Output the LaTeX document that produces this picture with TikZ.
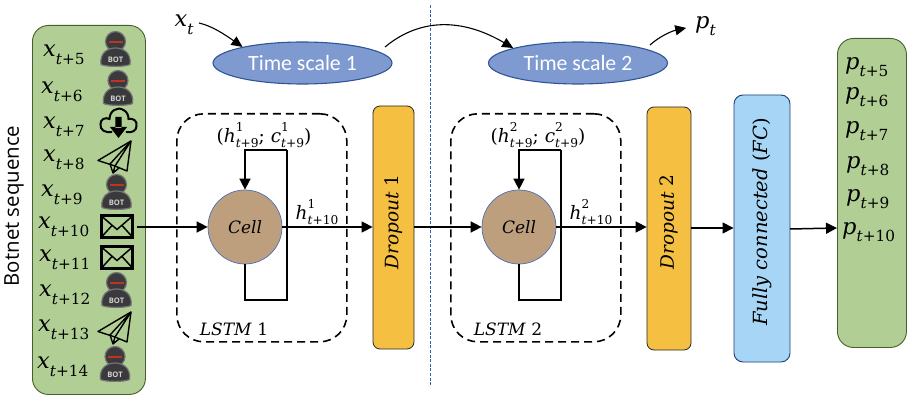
\documentclass[tikz,border=0pt]{standalone}
\usepackage[no-math]{fontspec}
\usetikzlibrary{arrows.meta,shapes.geometric}
\newfontfamily\calib{Carlito}
\newfontfamily\opens{Open Sans}
\newfontfamily\dvs{DejaVu Serif}
\definecolor{panelgreen}{HTML}{B1CF94}
\definecolor{paneledge}{HTML}{44602F}
\definecolor{scalefill}{HTML}{7F9AD0}
\definecolor{scaleedge}{HTML}{2F5597}
\definecolor{cellfill}{HTML}{BE9F7D}
\definecolor{celledge}{HTML}{4A6FB5}
\definecolor{dropfill}{HTML}{F5BF41}
\definecolor{fcfill}{HTML}{A6D5F5}
\definecolor{fcedge}{HTML}{1F3F77}
\definecolor{divider}{HTML}{2E62B5}
\definecolor{botdark}{HTML}{3A3A3C}
\definecolor{botband}{HTML}{C03222}
\newcommand{\lbl}{\dvs\fontsize{22.5}{24}\selectfont}
\newcommand{\medtxt}{\dvs\fontsize{17}{20}\selectfont}
\newcommand{\statetxt}{\dvs\fontsize{18.5}{20}\selectfont}
\newcommand{\droptxt}{\dvs\fontsize{18.5}{20}\selectfont}
\newcommand{\fctxt}{\dvs\fontsize{19.5}{20}\selectfont}
% symbol with a lowered index: base, italic part of the index, upright part of the index
\newcommand{\sbs}[3]{\mbox{\dvs\itshape #1\raisebox{-.34em}{\scalebox{.68}{\itshape #2\upshape #3}}}}
% symbol with an exponent stacked over the index
\newcommand{\sps}[4]{\mbox{\dvs\itshape #1\rlap{\raisebox{.6em}{\scalebox{.66}{\upshape #2}}}\raisebox{-.28em}{\scalebox{.66}{\itshape #3\upshape #4}}}}
\tikzset{
  x=1pt,y=-1pt,
  flow/.style={line width=1.5pt,-{Triangle[length=11pt,width=11pt]}},
  curvearrow/.style={line width=1.1pt,-{Triangle[length=11pt,width=10pt]}},
  panel/.style={draw=paneledge,fill=panelgreen,line width=.9pt,rounded corners=16pt},
  dropbox/.style={draw=black!85,fill=dropfill,line width=.8pt,rounded corners=7pt},
  fcbox/.style={draw=fcedge,fill=fcfill,line width=.9pt,rounded corners=9pt},
  lstmbox/.style={draw=black,line width=1.6pt,dash pattern=on 8pt off 5pt,rounded corners=27pt},
  tscale/.style={ellipse,draw=scaleedge,fill=scalefill,line width=1.1pt,minimum width=179pt,minimum height=42pt,inner sep=0pt,text=white,font=\calib\fontsize{21.8}{24}\selectfont},
  lstmcell/.style={circle,draw=celledge,fill=cellfill,line width=.7pt,minimum size=74pt,inner sep=0pt},
  seq/.style={anchor=west,inner sep=0pt,font=\lbl},
  pics/bot/.style={code={
    \path[draw=botdark!70,line width=1.2pt,fill=botdark] (0,-9.5) circle (10);
    \path[draw=botdark!70,line width=1.2pt,fill=botdark] (-14.5,13.5) .. controls (-16,3) and (-9,-3) .. (0,-3) .. controls (9,-3) and (16,3) .. (14.5,13.5) .. controls (10,16) and (-10,16) .. (-14.5,13.5) -- cycle;
    \fill[botband] (-7,-10.4) rectangle (7,-8.4);
    \node[text=white!82!black,inner sep=0pt,font=\opens\bfseries\fontsize{7.6}{8}\selectfont] (-tag) at (0,8.5) {BOT};
  }},
  pics/mail/.style={code={
    \draw[line width=2.2pt] (-15.5,-11) rectangle (15.5,11);
    \draw[line width=1.5pt] (-15,-10) -- (0,3) -- (15,-10) (-15,10) -- (-5,-1) (15,10) -- (5,-1);
  }},
  pics/cloud/.style={code={
    \draw[line width=2pt,line cap=round] (-7,9) .. controls (-13,10) and (-19,7) .. (-18,1) .. controls (-18,-4) and (-13,-6) .. (-9,-4) .. controls (-9,-12) and (-1,-17) .. (5,-13) .. controls (9,-11) and (10,-7) .. (10,-4) .. controls (15,-5) and (19,-2) .. (18,3) .. controls (18,8) and (13,10) .. (8,9);
    \fill (-3.2,-6) rectangle (3.2,5) (-8.5,4) -- (8.5,4) -- (0,15) -- cycle;
  }},
  pics/plane/.style={code={
    \draw[line width=1.4pt,line join=round] (-17,3.5) -- (16,-16) -- (12,14) -- (0,9) -- cycle;
    \draw[line width=1.4pt,line join=round] (16,-16) -- (-5,7) -- (-2,16) -- (0,9) (16,-16) -- (0,9) (-2,16) -- (4,11);
  }},
}
\begin{document}
\begin{tikzpicture}
\useasboundingbox (0,0) rectangle (918,406);

% input and output sequence panels
\node[panel,anchor=north west,minimum width=113pt,minimum height=369pt,inner sep=0pt] (inpanel) at (32,25) {};
\node[panel,anchor=north west,minimum width=69pt,minimum height=309pt,inner sep=0pt] (outpanel) at (837,38) {};
\node[rotate=90,inner sep=0pt,font=\opens\fontsize{20.4}{22}\selectfont] (seqtitle) at (14,206) {Botnet sequence};

\node[seq] (x5) at (43,55) {\sbs{x}{t}{+5}};
\node[seq] (x6) at (41,92) {\sbs{x}{t}{+6}};
\node[seq] (x7) at (43,127) {\sbs{x}{t}{+7}};
\node[seq] (x8) at (43,160) {\sbs{x}{t}{+8}};
\node[seq] (x9) at (41,195) {\sbs{x}{t}{+9}};
\node[seq] (x10) at (38,227) {\sbs{x}{t}{+10}};
\node[seq] (x11) at (39,260) {\sbs{x}{t}{+11}};
\node[seq] (x12) at (39,295) {\sbs{x}{t}{+12}};
\node[seq] (x13) at (38,330) {\sbs{x}{t}{+13}};
\node[seq] (x14) at (37,367) {\sbs{x}{t}{+14}};

\pic (b1) at (115.5,51) {bot};
\pic (b2) at (118,90) {bot};
\pic at (118.5,123) {cloud};
\pic at (115,157) {plane};
\pic (b3) at (116.5,194) {bot};
\pic at (117,226.5) {mail};
\pic at (117,257.5) {mail};
\pic (b4) at (116.5,292) {bot};
\pic at (115,328) {plane};
\pic (b5) at (115,366) {bot};

\node[seq] (p5) at (845,67) {\sbs{p}{t}{+5}};
\node[seq] (p6) at (845,97) {\sbs{p}{t}{+6}};
\node[seq] (p7) at (845,131) {\sbs{p}{t}{+7}};
\node[seq] (p8) at (846,166) {\sbs{p}{t}{+8}};
\node[seq] (p9) at (846,199) {\sbs{p}{t}{+9}};
\node[seq] (p10) at (842,232) {\sbs{p}{t}{+10}};

% time scales and the divider between them
\draw[divider,line width=1pt,dash pattern=on 3pt off 1.6pt] (430,5) -- (430,385);
\node[tscale] (ts1) at (302.5,63) {Time scale 1};
\node[tscale] (ts2) at (578,63) {Time scale 2};
\node[inner sep=0pt,font=\lbl] (xt) at (184,25) {\sbs{x}{t}{}};
\node[inner sep=0pt,font=\lbl] (pt) at (705.5,26) {\sbs{p}{t}{}};
\coordinate (xtail) at (199,23);
\coordinate (ptail) at (650,45);
\coordinate (ts1out) at (385,47);
\draw[curvearrow] (xtail) .. controls (212,26) and (224,34) .. (ts1.165);
\draw[curvearrow] (ts1out) .. controls (420,18) and (462,18) .. (ts2.167);
\draw[curvearrow,shorten >=9pt] (ptail) .. controls (660,36) and (672,31) .. (pt.west);

% LSTM blocks
\node[lstmbox,anchor=north west,minimum width=170pt,minimum height=228pt,inner sep=0pt] (lstmA) at (176,113) {};
\node[lstmbox,anchor=north west,minimum width=170pt,minimum height=228pt,inner sep=0pt] (lstmB) at (450,113) {};
\node[lstmcell] (cellA) at (245,227) {\medtxt\itshape Cell};
\node[lstmcell] (cellB) at (519,227) {\medtxt\itshape Cell};
\node[inner sep=0pt,font=\statetxt] (stateA) at (264,135) {(\sps{h}{1}{t}{+9}; \sps{c}{1}{t}{+9})};
\node[inner sep=0pt,font=\statetxt] (stateB) at (538,135) {(\sps{h}{2}{t}{+9}; \sps{c}{2}{t}{+9})};
\node[inner sep=0pt,font=\statetxt] (outA) at (317,212) {\sps{h}{1}{t}{+10}};
\node[inner sep=0pt,font=\statetxt] (outB) at (591,212) {\sps{h}{2}{t}{+10}};
\node[inner sep=0pt,font=\medtxt] (nameA) at (234,329) {\textit{LSTM} 1};
\node[inner sep=0pt,font=\medtxt] (nameB) at (508,329) {\textit{LSTM} 2};
\coordinate (cornerAb) at (287,300);
\coordinate (cornerAt) at (287,150);
\coordinate (cornerBb) at (561,300);
\coordinate (cornerBt) at (561,150);

% dropout and fully connected layers
\node[dropbox,minimum width=41pt,minimum height=243pt,inner sep=0pt] (dropA) at (393.5,227.5) {};
\node[rotate=90,inner sep=0pt,font=\droptxt] (dropAtext) at (393.5,222) {\textit{Dropout} 1};
\node[dropbox,minimum width=44pt,minimum height=243pt,inner sep=0pt] (dropB) at (669,228.5) {};
\node[rotate=90,inner sep=0pt,font=\droptxt] (dropBtext) at (669,222) {\textit{Dropout} 2};
\node[fcbox,minimum width=56pt,minimum height=267pt,inner sep=0pt] (fc) at (762,228.5) {};
\node[rotate=90,inner sep=0pt,font=\fctxt] (fctext) at (762,222) {\textit{Fully connected} (\textit{FC})};

% connectors along the main path
\coordinate (inrow) at (137,227);
\coordinate (dropArow) at (dropA.east |- cellA.east);
\coordinate (dropAin) at (dropA.west |- cellA.east);
\coordinate (dropBin) at (dropB.west |- cellB.east);
\coordinate (dropBout) at (691,228);
\coordinate (fcin) at (fc.west |- dropBout);
\coordinate (fcout) at (790,229);
\coordinate (outin) at (outpanel.west |- 0,228);
\draw[flow] (inrow) -- (cellA.west);
\draw[line width=1.5pt] (cellA.south) |- (cornerAb) -- (cornerAt);
\draw[flow] (cornerAt) -| (cellA.north);
\draw[flow] (cellA.east) -- (dropAin);
\draw[flow] (dropArow) -- (cellB.west);
\draw[line width=1.5pt] (cellB.south) |- (cornerBb) -- (cornerBt);
\draw[flow] (cornerBt) -| (cellB.north);
\draw[flow] (cellB.east) -- (dropBin);
\draw[flow] (dropBout) -- (fcin);
\draw[flow] (fcout) -- (outin);
\end{tikzpicture}
\end{document}
